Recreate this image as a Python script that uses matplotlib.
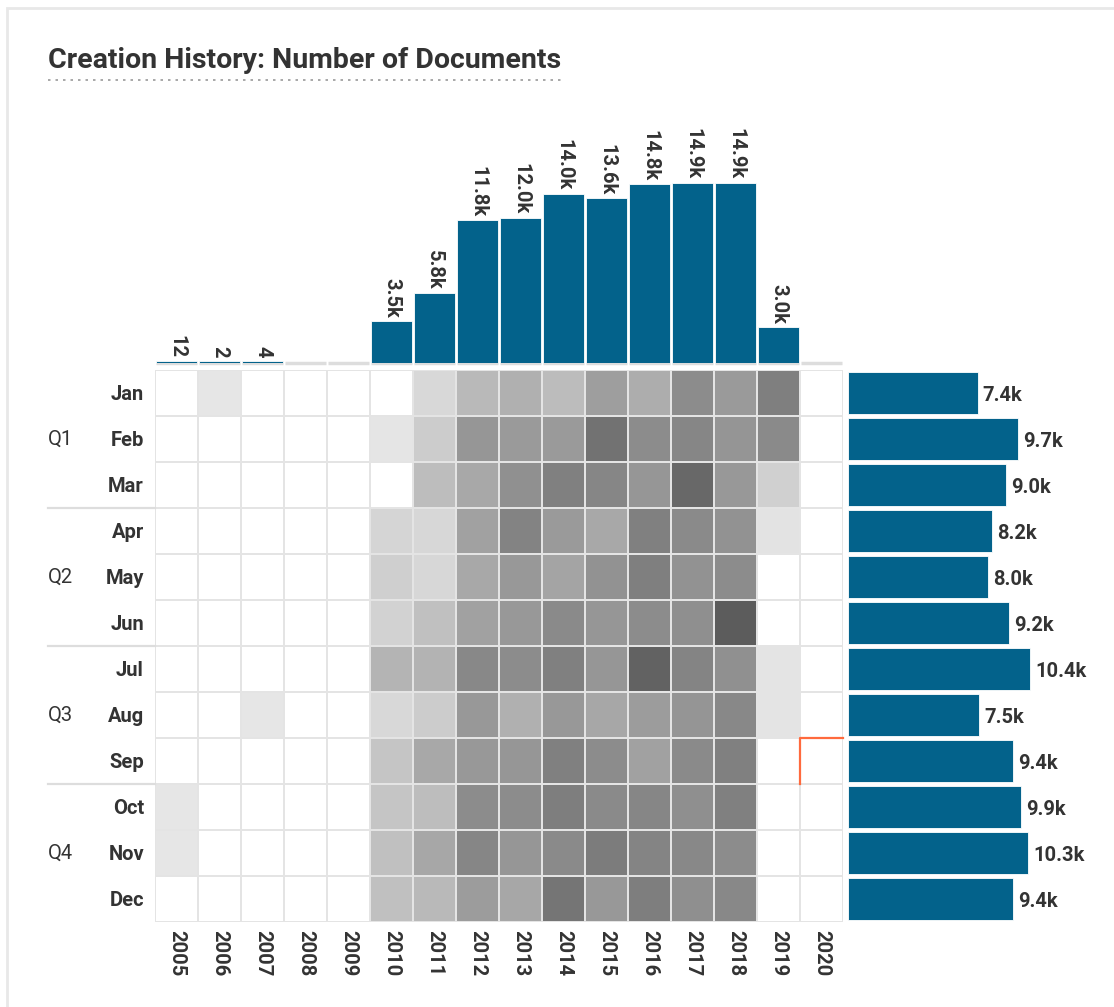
import matplotlib.pyplot as plt
import matplotlib.colors as mcolors
import matplotlib.transforms as mtransforms
from matplotlib.lines import Line2D
import matplotlib.patches as mpatches
import numpy as np

plt.rcParams['font.family'] = ['Roboto', 'DejaVu Sans']

years = list(range(2005, 2021))
months = ['Jan', 'Feb', 'Mar', 'Apr', 'May', 'Jun',
          'Jul', 'Aug', 'Sep', 'Oct', 'Nov', 'Dec']
quarters = ['Q1', 'Q2', 'Q3', 'Q4']

# totals shown on the marginal bars
year_totals = [12, 2, 4, 0, 0, 3500, 5800, 11800, 12000, 14000,
               13600, 14800, 14900, 14900, 3000, 0]
month_totals = [7400, 9700, 9000, 8200, 8000, 9200,
                10400, 7500, 9400, 9900, 10300, 9400]

# documents per month, one list per year (Jan..Dec), estimated from the shading
monthly_counts = {
    2005: [0, 0, 0, 0, 0, 0, 0, 0, 0, 7, 5, 0],
    2006: [2, 0, 0, 0, 0, 0, 0, 0, 0, 0, 0, 0],
    2007: [0, 0, 0, 0, 0, 0, 0, 4, 0, 0, 0, 0],
    2008: [0] * 12,
    2009: [0] * 12,
    2010: [0, 20, 0, 240, 310, 270, 670, 190, 450, 450, 510, 510],
    2011: [190, 350, 560, 210, 210, 510, 690, 350, 830, 560, 850, 610],
    2012: [610, 1070, 830, 930, 830, 930, 1250, 1040, 1040, 1200, 1280, 990],
    2013: [720, 1010, 1150, 1330, 1040, 1040, 1200, 720, 1070, 1200, 1070, 850],
    2014: [570, 1010, 1360, 1010, 880, 1230, 1360, 1040, 1360, 1390, 1230, 1500],
    2015: [960, 1550, 1280, 830, 1120, 1070, 1070, 850, 1200, 1230, 1410, 1050],
    2016: [760, 1200, 1070, 1360, 1370, 1200, 1760, 990, 930, 1280, 1310, 1390],
    2017: [1200, 1280, 1680, 1230, 1120, 1170, 1310, 1090, 1230, 1170, 1250, 1160],
    2018: [1010, 1090, 1040, 1120, 1200, 1840, 1150, 1250, 1360, 1360, 1200, 1250],
    2019: [1370, 1230, 290, 40, 0, 0, 30, 30, 0, 0, 0, 0],
    2020: [0] * 12,
}

highlight = (2020, 'Sep')

BLUE = '#03628b'
TEXT = '#333333'
W, H = 1114, 1007


def fx(px):
    return px / W


def fy(py):
    return 1 - py / H


def fmt(v):
    return f'{v / 1000:.1f}k' if v >= 1000 else str(v)


fig = plt.figure(figsize=(W / 100, H / 100), dpi=100)
fig.patch.set_facecolor('white')
fig.add_artist(mpatches.Rectangle((fx(7), -0.01), 1.0, fy(8) + 0.01,
                                  transform=fig.transFigure, facecolor='white',
                                  edgecolor='#e8e8e8', lw=2, zorder=-5))

# heatmap
ax = fig.add_axes([fx(155), fy(922), fx(843) - fx(155), fy(370) - fy(922)])
Z = np.array([monthly_counts[y] for y in years]).T
cmap = mcolors.LinearSegmentedColormap.from_list('docs', ['#e6e6e6', '#000000'])
cmap.set_under('white')
norm = mcolors.Normalize(vmin=0.5, vmax=3070)
ax.pcolormesh(np.arange(len(years) + 1), np.arange(len(months) + 1), Z,
              cmap=cmap, norm=norm, edgecolors='#e4e4e4', linewidth=1.3)
ax.set_xlim(0, len(years))
ax.set_ylim(len(months), 0)
for s in ax.spines.values():
    s.set_visible(False)
ax.set_xticks(np.arange(len(years)) + 0.5)
ax.set_xticklabels([str(y) for y in years], rotation=-90, fontsize=14.5,
                   fontweight='bold', color=TEXT)
ax.set_yticks(np.arange(len(months)) + 0.5)
ax.set_yticklabels(months, fontsize=14.5, fontweight='bold', color=TEXT)
ax.tick_params(length=0)
ax.tick_params(axis='x', pad=6)
ax.tick_params(axis='y', pad=8)

# quarter labels and separators
trans = mtransforms.blended_transform_factory(fig.transFigure, ax.transData)
for i, q in enumerate(quarters):
    ax.text(fx(48), i * 3 + 1.5, q, transform=trans, ha='left', va='center',
            fontsize=14.5, color=TEXT)
    if i > 0:
        ax.add_line(Line2D([fx(48), fx(155)], [i * 3, i * 3], transform=trans,
                           color='#dddddd', lw=1.6, clip_on=False))

# current month marker
hc = years.index(highlight[0])
hr = months.index(highlight[1])
ax.plot([hc, hc, hc + 1], [hr + 1, hr, hr], color='#ff6a3d', lw=1.6,
        clip_on=False, zorder=5)

# yearly totals on top
ax_top = fig.add_axes([fx(155), fy(363), fx(843) - fx(155), fy(110) - fy(363)])
xs = np.arange(len(years)) + 0.5
heights = [max(v / 1000, 0.2) if v > 0 else 0 for v in year_totals]
ax_top.hlines([0] * len(years), xs - 0.47, xs + 0.47, color='#dddddd', lw=2.5,
              clip_on=False, zorder=1)
ax_top.bar(xs, heights, width=0.96, color=BLUE, edgecolor='white', lw=0.6,
           zorder=2)
for x, h, v in zip(xs, heights, year_totals):
    if v > 0:
        ax_top.text(x, h + 0.25, fmt(v), rotation=-90, ha='center', va='bottom',
                    fontsize=14.5, fontweight='bold', color=TEXT)
ax_top.set_xlim(0, len(years))
ax_top.set_ylim(0, 20.9)
ax_top.axis('off')

# monthly totals on the right
ax_r = fig.add_axes([fx(848), fy(922), 1 - fx(848), fy(370) - fy(922)])
ys = np.arange(len(months)) + 0.5
vals = np.array(month_totals) / 1000
ax_r.barh(ys, vals, height=0.9, color=BLUE, edgecolor='white', lw=0.6)
for y, v, t in zip(ys, vals, month_totals):
    ax_r.text(v + 0.3, y + 0.05, fmt(t), ha='left', va='center', fontsize=14.5,
              fontweight='bold', color=TEXT)
ax_r.set_xlim(0, 15.2)
ax_r.set_ylim(len(months), 0)
ax_r.axis('off')

# title with dotted underline
title = fig.text(fx(48), fy(61), 'Creation History: Number of Documents',
                 ha='left', va='center', fontsize=20.5, fontweight='bold', color=TEXT)
fig.canvas.draw()
bb = title.get_window_extent().transformed(fig.transFigure.inverted())
fig.add_artist(Line2D([bb.x0, bb.x1], [fy(80), fy(80)], transform=fig.transFigure,
                      color='#999999', lw=1.2, linestyle=(0, (1.5, 3))))

fig.savefig('out.png', dpi=100)
